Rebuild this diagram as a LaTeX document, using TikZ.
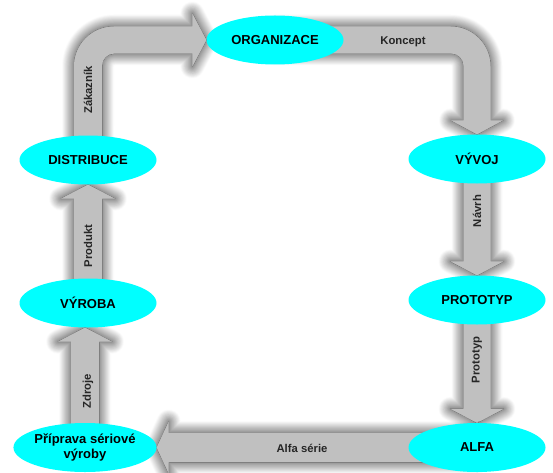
\documentclass[tikz,border=0pt]{standalone}
\usepackage{fontspec}
\setmainfont{Liberation Sans}
\usetikzlibrary{calc,shapes.geometric,shadows.blur}
\pgfdeclarelayer{shade}
\pgfdeclarelayer{arrows}
\pgfsetlayers{shade,arrows,main}
\definecolor{phase}{HTML}{00FFFF}
\definecolor{flow}{HTML}{C0C0C0}
\tikzset{
  phasebox/.style={ellipse, fill=phase, minimum width=137pt, minimum height=49pt,
    inner sep=0pt, align=center, font=\bfseries\fontsize{13}{15}\selectfont},
  blockarrow/.style={fill=flow, blur shadow={shadow xshift=0pt, shadow yshift=0pt,
    shadow blur radius=12pt, shadow opacity=90, shadow blur steps=16}},
  phaseshade/.style={blur shadow={shadow xshift=-2pt, shadow yshift=0pt,
    shadow blur radius=11pt, shadow opacity=45, shadow blur steps=12}},
  flowlabel/.style={font=\bfseries\fontsize{11.3}{13}\selectfont, text=black!85},
}
% straight block arrows between two named nodes
\newcommand\blockdown[2]{%
  \fill[blockarrow] let \p1=(#1.center), \p2=(#2.north) in
    (\x1-13.5pt,\y1) -- (\x1-13.5pt,\y2+14pt) -- (\x1-26.5pt,\y2+14pt) -- (\x1,\y2)
    -- (\x1+26.5pt,\y2+14pt) -- (\x1+13.5pt,\y2+14pt) -- (\x1+13.5pt,\y1) -- cycle;}
\newcommand\blockup[2]{%
  \fill[blockarrow] let \p1=(#1.center), \p2=(#2.south) in
    (\x1-14pt,\y1) -- (\x1-14pt,\y2-14pt) -- (\x1-27pt,\y2-14pt) -- (\x1,\y2)
    -- (\x1+27pt,\y2-14pt) -- (\x1+14pt,\y2-14pt) -- (\x1+14pt,\y1) -- cycle;}
\begin{document}
\begin{tikzpicture}[x=1pt,y=1pt]
\useasboundingbox (0,0) rectangle (553,472);

% phases of the cycle
\node[phasebox] (org)    at (275,432)   {ORGANIZACE};
\node[phasebox] (vyvoj)  at (477,313)   {VÝVOJ};
\node[phasebox] (proto)  at (477,172)   {PROTOTYP};
\node[phasebox] (alfa)   at (477,24.5)  {ALFA};
\node[phasebox] (prip)   at (85,24.5)   {Příprava sériové\\výroby};
\node[phasebox] (vyroba) at (88,169)    {VÝROBA};
\node[phasebox] (dist)   at (88,312)    {DISTRIBUCE};

% soft shadows under the ellipses
\begin{pgfonlayer}{shade}
  \foreach \n in {org,vyvoj,proto,alfa,prip,vyroba,dist}
    \path[phaseshade] (\n.center) ellipse (68.5pt and 24.5pt);
\end{pgfonlayer}

\begin{pgfonlayer}{arrows}
  % DISTRIBUCE -> ORGANIZACE (bent)
  \fill[blockarrow] let \p1=(dist.center), \p2=(org.west) in
    (\x1-14pt,\y1) -- (\x1-14pt,\y2+13.5pt-40pt)
    arc[start angle=180, end angle=90, radius=40pt]
    -- (\x2-14pt,\y2+13.5pt) -- (\x2-14pt,\y2+26.5pt) -- (\x2,\y2)
    -- (\x2-14pt,\y2-26.5pt) -- (\x2-14pt,\y2-13.5pt) -- (\x1+26pt,\y2-13.5pt)
    arc[start angle=90, end angle=180, radius=12pt]
    -- (\x1+14pt,\y1) -- cycle;
  % ORGANIZACE -> VYVOJ (bent)
  \fill[blockarrow] let \p1=(org.center), \p2=(vyvoj.north) in
    (\x1,\y1+13.5pt) -- (\x2+13.5pt-40pt,\y1+13.5pt)
    arc[start angle=90, end angle=0, radius=40pt]
    -- (\x2+13.5pt,\y2+14pt) -- (\x2+26pt,\y2+14pt) -- (\x2,\y2)
    -- (\x2-26pt,\y2+14pt) -- (\x2-13.5pt,\y2+14pt) -- (\x2-13.5pt,\y1-25.5pt)
    arc[start angle=0, end angle=90, radius=12pt]
    -- (\x1,\y1-13.5pt) -- cycle;
  \blockdown{vyvoj}{proto}
  \blockdown{proto}{alfa}
  % ALFA -> Priprava
  \fill[blockarrow] let \p1=(alfa.center), \p2=(prip.east) in
    (\x1,\y1+14.5pt) -- (\x2+12pt,\y1+14.5pt) -- (\x2+12pt,\y1+26pt) -- (\x2,\y1)
    -- (\x2+12pt,\y1-26pt) -- (\x2+12pt,\y1-14.5pt) -- (\x1,\y1-14.5pt) -- cycle;
  \blockup{prip}{vyroba}
  \blockup{vyroba}{dist}
\end{pgfonlayer}

% flow labels
\node[flowlabel, rotate=90] (lzak)  at (88,382)  {Zákazník};
\node[flowlabel]            (lkon)  at (403,430) {Koncept};
\node[flowlabel, rotate=90] (lnav)  at (477,261) {Návrh};
\node[flowlabel, rotate=90] (lpro)  at (477,112) {Prototyp};
\node[flowlabel]            (lalf)  at (302,24)  {Alfa série};
\node[flowlabel, rotate=90] (lzdr)  at (88,81)   {Zdroje};
\node[flowlabel, rotate=90] (lprd)  at (88,226)  {Produkt};
\end{tikzpicture}
\end{document}
